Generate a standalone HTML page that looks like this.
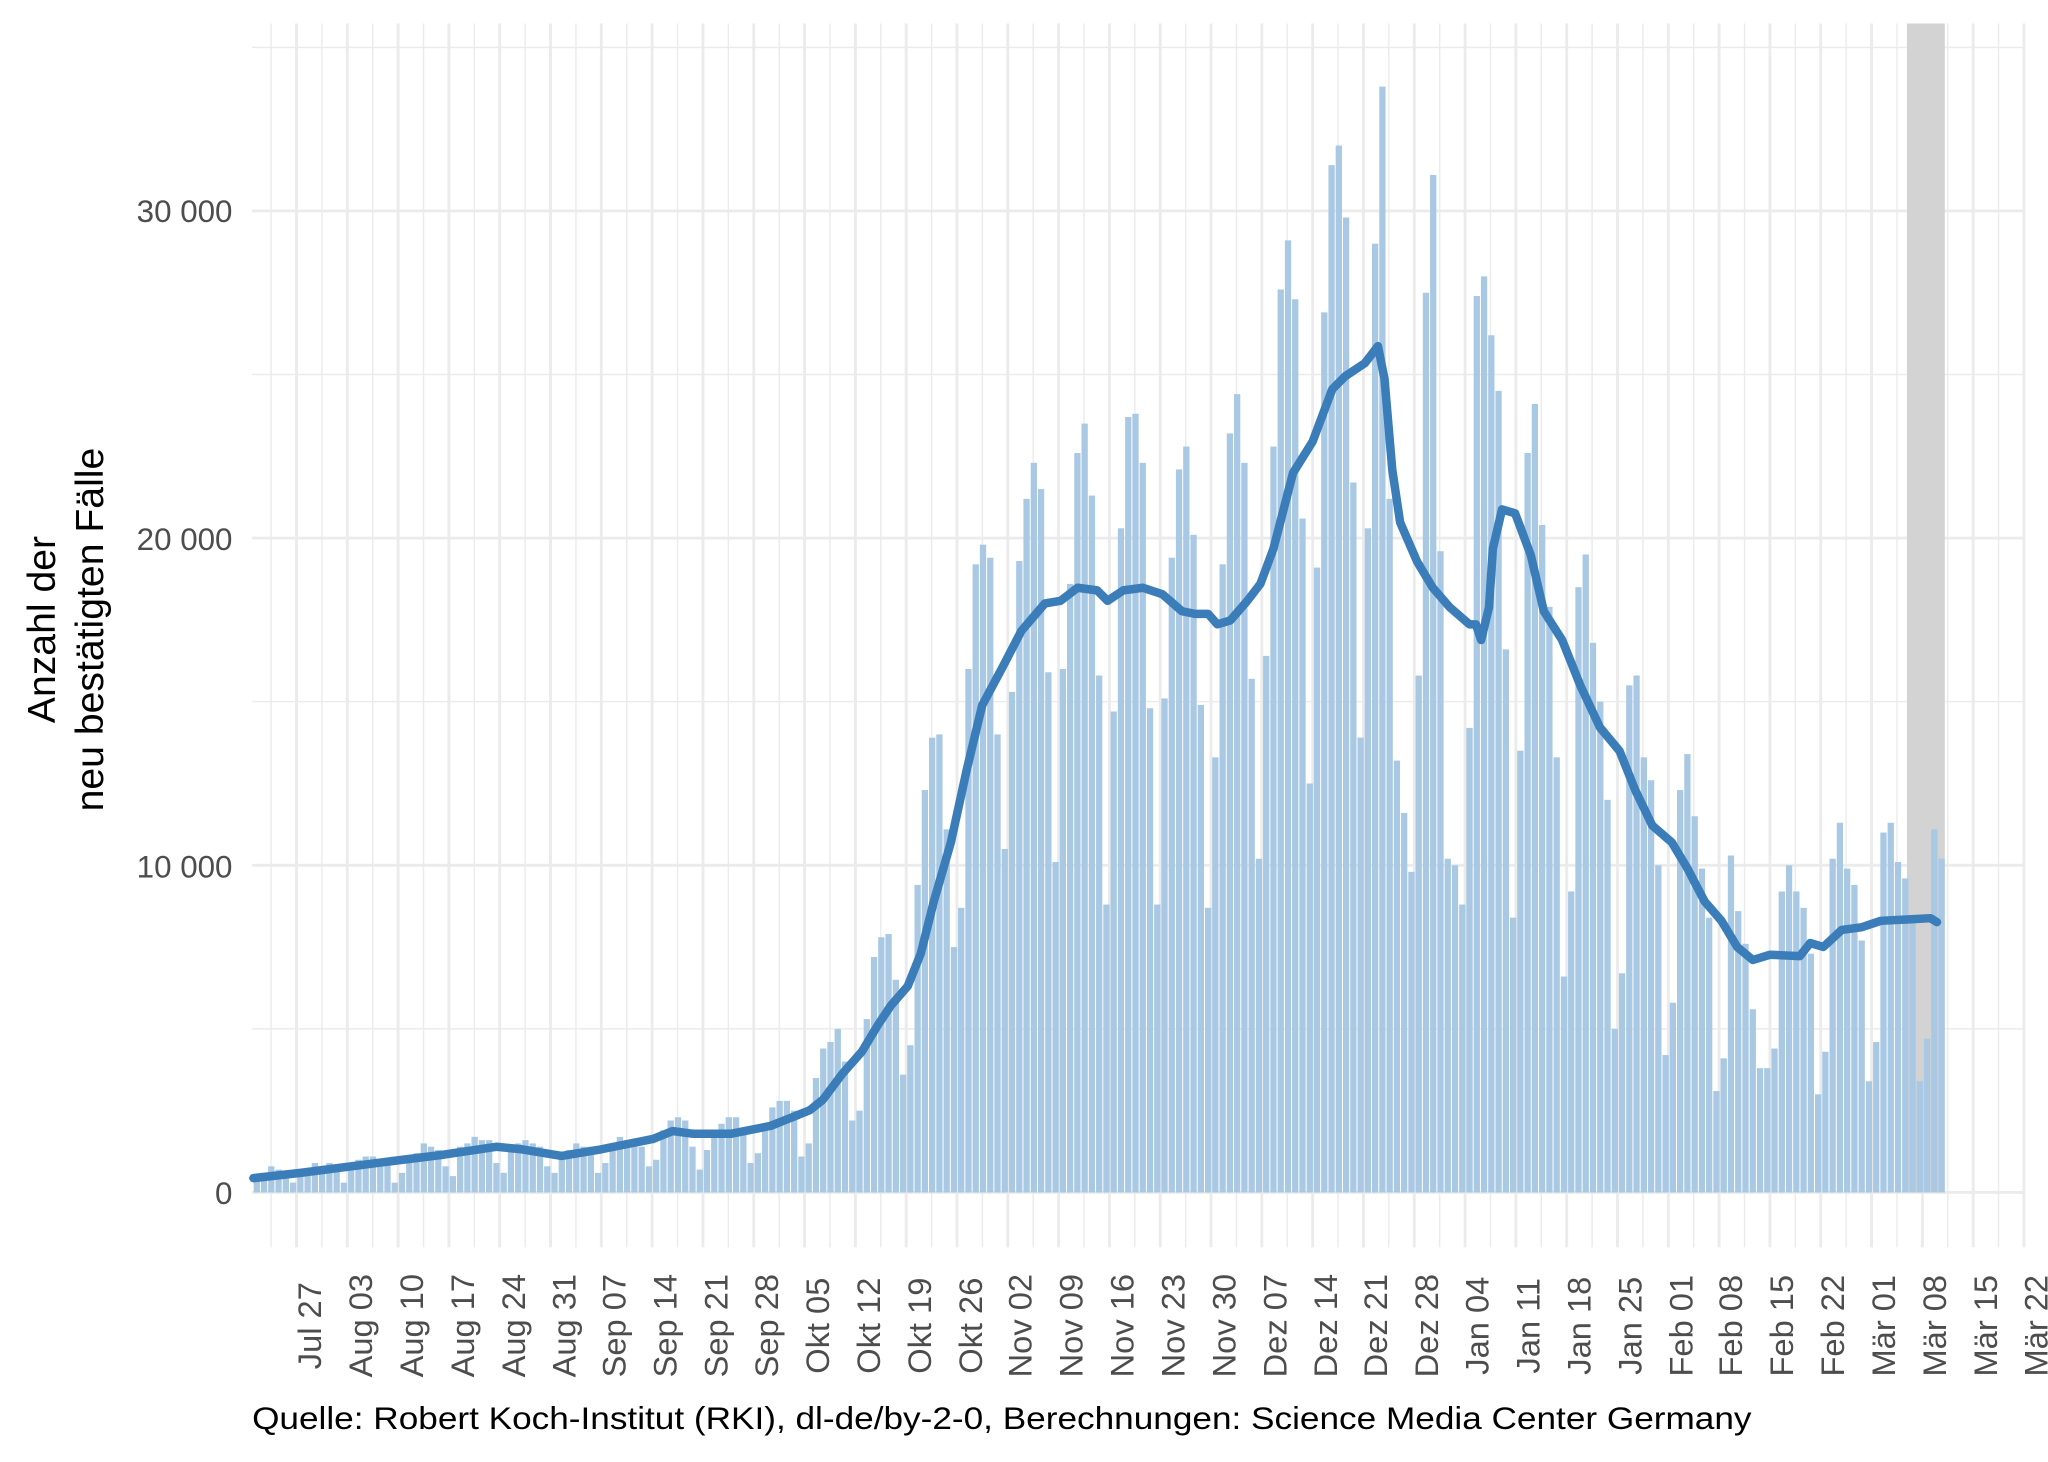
<!DOCTYPE html>
<html><head><meta charset="utf-8"><style>
html,body{margin:0;padding:0;background:#fff;}
svg{display:block;}
text{font-family:"Liberation Sans",sans-serif;}
</style></head><body>
<svg id="s" width="2048" height="1462" viewBox="0 0 1568 1119.35" preserveAspectRatio="none" xmlns="http://www.w3.org/2000/svg">
<rect width="1568" height="1120" fill="#fff"/>
<g id="grid"></g>
<rect x="1460" y="18" width="29" height="895" fill="#d3d3d3"/>
<g id="bars"></g>
<path id="line" fill="none" stroke="#3a7db8" stroke-width="6.5" stroke-linejoin="round" stroke-linecap="round"/>
<g font-size="24" fill="#4d4d4d" text-anchor="end">
<text x="178" y="170">30 000</text>
<text x="178" y="421">20 000</text>
<text x="178" y="672">10 000</text>
<text x="178" y="922">0</text>
</g>
<g font-size="30" fill="#000" text-anchor="middle">
<text transform="translate(42,482) rotate(-90)">Anzahl der</text>
<text transform="translate(79,482) rotate(-90)">neu bestätigten Fälle</text>
</g>
<g id="xl" font-size="25" fill="#4d4d4d" text-anchor="middle">
<text transform="translate(237,1015) rotate(-90)" dominant-baseline="central">Jul 27</text>
<text transform="translate(276,1015) rotate(-90)" dominant-baseline="central">Aug 03</text>
<text transform="translate(315,1015) rotate(-90)" dominant-baseline="central">Aug 10</text>
<text transform="translate(354,1015) rotate(-90)" dominant-baseline="central">Aug 17</text>
<text transform="translate(393,1015) rotate(-90)" dominant-baseline="central">Aug 24</text>
<text transform="translate(432,1015) rotate(-90)" dominant-baseline="central">Aug 31</text>
<text transform="translate(470,1015) rotate(-90)" dominant-baseline="central">Sep 07</text>
<text transform="translate(509,1015) rotate(-90)" dominant-baseline="central">Sep 14</text>
<text transform="translate(548,1015) rotate(-90)" dominant-baseline="central">Sep 21</text>
<text transform="translate(587,1015) rotate(-90)" dominant-baseline="central">Sep 28</text>
<text transform="translate(626,1015) rotate(-90)" dominant-baseline="central">Okt 05</text>
<text transform="translate(665,1015) rotate(-90)" dominant-baseline="central">Okt 12</text>
<text transform="translate(704,1015) rotate(-90)" dominant-baseline="central">Okt 19</text>
<text transform="translate(743,1015) rotate(-90)" dominant-baseline="central">Okt 26</text>
<text transform="translate(781,1015) rotate(-90)" dominant-baseline="central">Nov 02</text>
<text transform="translate(820,1015) rotate(-90)" dominant-baseline="central">Nov 09</text>
<text transform="translate(859,1015) rotate(-90)" dominant-baseline="central">Nov 16</text>
<text transform="translate(898,1015) rotate(-90)" dominant-baseline="central">Nov 23</text>
<text transform="translate(937,1015) rotate(-90)" dominant-baseline="central">Nov 30</text>
<text transform="translate(976,1015) rotate(-90)" dominant-baseline="central">Dez 07</text>
<text transform="translate(1015,1015) rotate(-90)" dominant-baseline="central">Dez 14</text>
<text transform="translate(1053,1015) rotate(-90)" dominant-baseline="central">Dez 21</text>
<text transform="translate(1092,1015) rotate(-90)" dominant-baseline="central">Dez 28</text>
<text transform="translate(1131,1015) rotate(-90)" dominant-baseline="central">Jan 04</text>
<text transform="translate(1170,1015) rotate(-90)" dominant-baseline="central">Jan 11</text>
<text transform="translate(1209,1015) rotate(-90)" dominant-baseline="central">Jan 18</text>
<text transform="translate(1248,1015) rotate(-90)" dominant-baseline="central">Jan 25</text>
<text transform="translate(1287,1015) rotate(-90)" dominant-baseline="central">Feb 01</text>
<text transform="translate(1325,1015) rotate(-90)" dominant-baseline="central">Feb 08</text>
<text transform="translate(1364,1015) rotate(-90)" dominant-baseline="central">Feb 15</text>
<text transform="translate(1403,1015) rotate(-90)" dominant-baseline="central">Feb 22</text>
<text transform="translate(1442,1015) rotate(-90)" dominant-baseline="central">Mär 01</text>
<text transform="translate(1481,1015) rotate(-90)" dominant-baseline="central">Mär 08</text>
<text transform="translate(1520,1015) rotate(-90)" dominant-baseline="central">Mär 15</text>
<text transform="translate(1559,1015) rotate(-90)" dominant-baseline="central">Mär 22</text>
</g>
<text x="193" y="1094" font-size="24" fill="#000" textLength="1148" lengthAdjust="spacingAndGlyphs">Quelle: Robert Koch-Institut (RKI), dl-de/by-2-0, Berechnungen: Science Media Center Germany</text>
</svg>
<script>
(function(){
var NS="http://www.w3.org/2000/svg";
function el(t,a,p){var e=document.createElementNS(NS,t);for(var k in a)e.setAttribute(k,a[k]);p.appendChild(e);return e;}
var grid=document.getElementById('grid');
var Y=function(v){return 913-v*25.05;};
[[0,2.2],[5,1.1],[10,2.2],[15,1.1],[20,2.2],[25,1.1],[30,2.2],[35,1.1]].forEach(function(g){
 el('line',{x1:193,x2:1550,y1:Y(g[0]),y2:Y(g[0]),stroke:'#ebebeb','stroke-width':g[1]},grid);});
for(var i=-1;i<=34;i++){
 var x=227+i*38.9;
 if(x>=193&&x<=1552) el('line',{x1:x,x2:x,y1:18,y2:955,stroke:'#ebebeb','stroke-width':2.2},grid);
 var xm=x+19.45;
 if(xm>=193&&xm<=1552) el('line',{x1:xm,x2:xm,y1:18,y2:955,stroke:'#ebebeb','stroke-width':1.1},grid);
}
var d=[0.5,0.6,0.8,0.7,0.6,0.3,
0.5,0.6,0.9,0.8,0.9,0.8,0.3,
0.9,1.0,1.1,1.1,1.0,0.9,0.3,
0.6,1.0,1.2,1.5,1.4,1.3,0.8,
0.5,1.4,1.5,1.7,1.6,1.6,0.9,
0.6,1.3,1.5,1.6,1.5,1.4,0.8,
0.6,1.2,1.3,1.5,1.4,1.4,0.6,
0.9,1.4,1.7,1.6,1.6,1.4,0.8,
1.0,1.9,2.2,2.3,2.2,1.4,0.7,
1.3,1.8,2.1,2.3,2.3,1.8,0.9,
1.2,2.0,2.6,2.8,2.8,2.5,1.1,
1.5,3.5,4.4,4.6,5.0,4.0,2.2,
2.5,5.3,7.2,7.8,7.9,6.5,3.6,
4.5,9.4,12.3,13.9,14.0,11.1,7.5,
8.7,16.0,19.2,19.8,19.4,14.0,10.5,
15.3,19.3,21.2,22.3,21.5,15.9,10.1,
16.0,18.6,22.6,23.5,21.3,15.8,8.8,
14.7,20.3,23.7,23.8,22.3,14.8,8.8,
15.1,19.4,22.1,22.8,20.1,14.9,8.7,
13.3,19.2,23.2,24.4,22.3,15.7,10.2,
16.4,22.8,27.6,29.1,27.3,20.6,12.5,
19.1,26.9,31.4,32.0,29.8,21.7,13.9,
20.3,29.0,33.8,21.2,13.2,11.6,9.8,
15.8,27.5,31.1,19.6,10.2,10.0,8.8,
14.2,27.4,28.0,26.2,24.5,16.6,8.4,
13.5,22.6,24.1,20.4,17.9,13.3,6.6,
9.2,18.5,19.5,16.8,15.0,12.0,5.0,
6.7,15.5,15.8,13.3,12.6,10.0,4.2,
5.8,12.3,13.4,11.5,9.9,8.4,3.1,
4.1,10.3,8.6,7.6,5.6,3.8,3.8,
4.4,9.2,10.0,9.2,8.7,7.3,3.0,
4.3,10.2,11.3,9.9,9.4,7.7,3.4,
4.6,11.0,11.3,10.1,9.6,8.4,3.4,
4.7,11.1,10.2];
var bars=document.getElementById('bars');
for(var j=0;j<d.length;j++){
 var xc=194+j*5.56+2.6;
 el('rect',{x:xc-2.4,y:Y(d[j]),width:4.8,height:d[j]*25.05,fill:'#a8c8e4'},bars);
}
var pts=[[194,902],[230,898],[300,889],[340,884],[380,878],[400,880],[430,885],[460,880],[500,872],[515,866],[530,868],[560,868],[590,862],[605,856],[620,850],[630,842],[645,822],[660,805],[672,785],[682,770],[695,755],[705,730],[715,690],[728,645],[740,590],[752,540],[768,510],[782,483],[800,462],[812,460],[825,450],[840,452],[848,460],[860,452],[875,450],[890,455],[905,468],[915,470],[925,470],[932,478],[942,475],[955,460],[965,447],[975,420],[990,362],[1005,338],[1020,298],[1030,288],[1045,278],[1055,265],[1060,290],[1066,360],[1072,400],[1085,430],[1097,450],[1110,465],[1125,478],[1130,478],[1134,490],[1140,465],[1143,420],[1150,390],[1160,393],[1172,425],[1182,468],[1196,490],[1210,525],[1225,557],[1240,575],[1252,605],[1265,632],[1280,645],[1292,665],[1305,690],[1318,705],[1330,725],[1342,735],[1355,731],[1378,732],[1386,722],[1396,725],[1410,712],[1425,710],[1440,705],[1460,704],[1478,703],[1483,706]];
document.getElementById('line').setAttribute('d','M'+pts.map(function(p){return p[0]+','+p[1];}).join(' L'));
})();
</script>
</body></html>
